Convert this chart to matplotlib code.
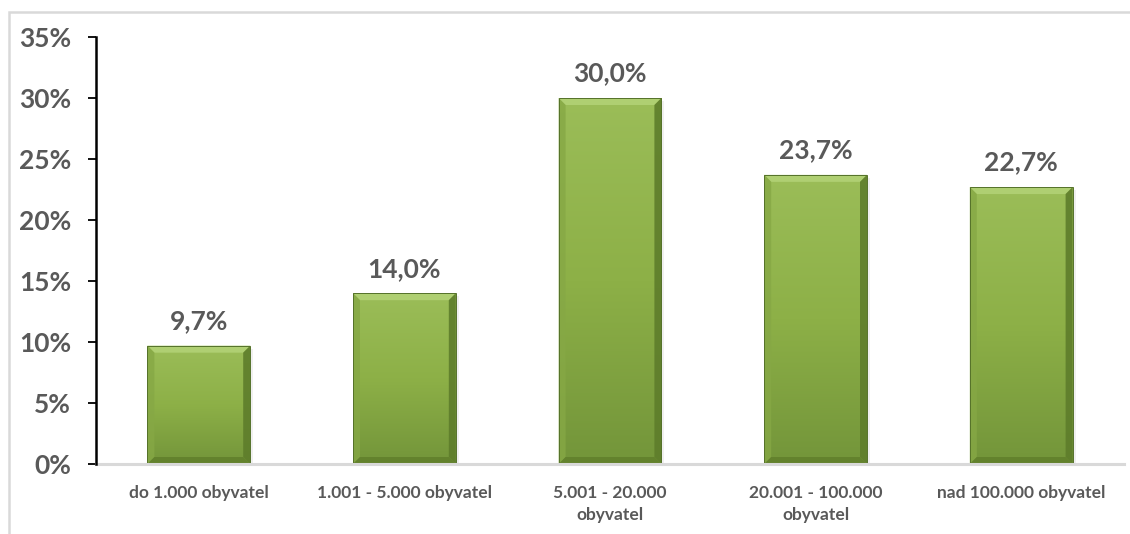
import numpy as np
import matplotlib
matplotlib.use("Agg")
import matplotlib.pyplot as plt
from matplotlib.patches import Rectangle, Polygon
from matplotlib.ticker import FuncFormatter

categories = ["do 1.000 obyvatel", "1.001 - 5.000 obyvatel", "5.001 - 20.000\nobyvatel",
              "20.001 - 100.000\nobyvatel", "nad 100.000 obyvatel"]
values = [9.7, 14.0, 30.0, 23.7, 22.7]
value_labels = ["9,7%", "14,0%", "30,0%", "23,7%", "22,7%"]

plt.rcParams['font.family'] = ['Lato', 'DejaVu Sans']
text_col = "#595959"

fig = plt.figure(figsize=(11.3, 5.34), dpi=100)
ax = fig.add_axes([96 / 1130, 70 / 534, 1028 / 1130, 427 / 534])

# outer frame (only top and left visible in the reference)
fig.patches.append(Rectangle((9 / 1130, -0.1), 1.2, 0.1 + 522 / 534, transform=fig.transFigure,
                             fill=False, ec="#D9D9D9", lw=1.8, zorder=0))

x = np.arange(len(categories))
bars = ax.bar(x, values, width=0.5, color="#8AAE45", zorder=2)
ax.set_xlim(-0.5, len(categories) - 0.5)
ax.set_ylim(0, 35)

# pixel -> data sizes for the bevel
px_x = 1 / (1028 / 5)
px_y = 35 / 427
bev = 7

grad = np.linspace(0, 1, 256).reshape(-1, 1)
cmap = matplotlib.colors.LinearSegmentedColormap.from_list("g", ["#9BBD58", "#8DB047", "#73953A"])
for b in bars:
    x0, w, h = b.get_x(), b.get_width(), b.get_height()
    im = ax.imshow(grad, cmap=cmap, aspect="auto", extent=(x0, x0 + w, 0, h),
                   zorder=2.1, interpolation="bicubic")
    im.set_clip_path(b)
    bx, by = bev * px_x, bev * px_y
    # top bevel
    ax.add_patch(Polygon([(x0, h), (x0 + w, h), (x0 + w - bx, h - by), (x0 + bx, h - by)],
                         closed=True, fc="#AFCF72", ec="none", zorder=2.2))
    # left bevel
    ax.add_patch(Polygon([(x0, h), (x0 + bx, h - by), (x0 + bx, by), (x0, 0)],
                         closed=True, fc="#86A845", ec="none", zorder=2.2, alpha=0.8))
    # right bevel
    ax.add_patch(Polygon([(x0 + w, h), (x0 + w - bx, h - by), (x0 + w - bx, by), (x0 + w, 0)],
                         closed=True, fc="#5E7D2B", ec="none", zorder=2.2, alpha=0.9))
    # bottom bevel
    ax.add_patch(Polygon([(x0, 0), (x0 + bx, by), (x0 + w - bx, by), (x0 + w, 0)],
                         closed=True, fc="#63822D", ec="none", zorder=2.2))
    # dark outline
    ax.add_patch(Rectangle((x0, 0), w, h, fill=False, ec="#55722A", lw=0.7, zorder=2.3))
    # soft shadow on the right side
    ax.add_patch(Rectangle((x0 + w, 0), 3 * px_x, h - 3 * px_y, fc="#000000", alpha=0.06,
                           ec="none", zorder=1.9))

for b, lab in zip(bars, value_labels):
    ax.annotate(lab, (b.get_x() + b.get_width() / 2, b.get_height()), xytext=(0, 9),
                textcoords="offset points", ha="center", va="bottom", fontsize=19,
                fontweight="bold", color=text_col)

ax.yaxis.set_major_formatter(FuncFormatter(lambda v, p: f"{v:.0f}%"))
ax.set_yticks(np.arange(0, 36, 5))
ax.set_xticks(x)
ax.set_xticklabels(categories, fontsize=12.5, fontweight="bold", color=text_col, linespacing=1.5)
ax.tick_params(axis="x", length=0, pad=15)
ax.tick_params(axis="y", length=6, width=1.3, color="black", labelsize=19, labelcolor=text_col, pad=12)
for t in ax.get_yticklabels():
    t.set_fontweight("bold")

for s in ["top", "right"]:
    ax.spines[s].set_visible(False)
ax.spines["left"].set_linewidth(1.8)
ax.spines["left"].set_color("black")
ax.spines["bottom"].set_linewidth(2.2)
ax.spines["bottom"].set_color("#D9D9D9")
ax.spines["left"].set_zorder(3)

fig.savefig("out.png", dpi=100)
